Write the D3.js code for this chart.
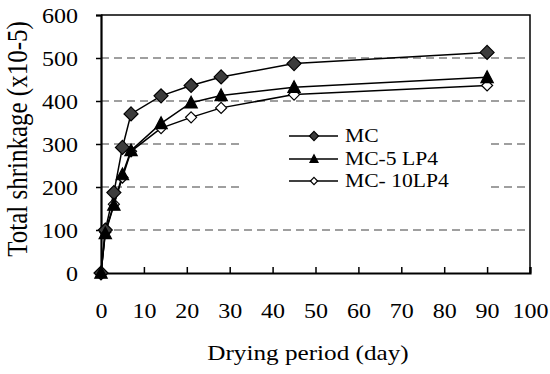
<!DOCTYPE html>
<html>
<head>
<meta charset="utf-8">
<script src="https://cdn.jsdelivr.net/npm/d3@7"></script>
<style>
    body { margin: 0; background: #fff; }
    svg text { font-family: "Liberation Serif", "Times New Roman", serif; fill: #000; }
</style>
</head>
<body>
<svg id="chart" width="550" height="374"></svg>
<script>
// drying days
const days = [0, 1, 3, 5, 7, 14, 21, 28, 45, 90];

// total shrinkage (x10-5)
const mc = [0, 100, 187, 292, 370, 412, 436, 456, 487, 513];
const mc5lp4 = [0, 92, 158, 229, 285, 348, 396, 413, 432, 455];
const mc10lp4 = [0, 95, 160, 222, 283, 337, 362, 384, 415, 436];

const seriesNames = ["MC", "MC-5 LP4", "MC- 10LP4"];
const xTicks = [0, 10, 20, 30, 40, 50, 60, 70, 80, 90, 100];
const yTicks = [0, 100, 200, 300, 400, 500, 600];

const margin = { top: 15, right: 20, bottom: 101, left: 101 };
const width = 550 - margin.left - margin.right;
const height = 374 - margin.top - margin.bottom;
const stretch = 1.2; // the picture's text is a bit wide

const svg = d3.select("#chart");

const xScale = d3.scaleLinear().domain([0, 100]).range([margin.left, margin.left + width]);
const yScale = d3.scaleLinear().domain([0, 600]).range([margin.top + height, margin.top]);

// dashed gridlines
svg.append("g")
    .selectAll("line")
    .data(yTicks.filter((d) => d > 0 && d < 600))
    .enter()
    .append("line")
    .attr("x1", xScale(0))
    .attr("x2", xScale(100))
    .attr("y1", (d) => yScale(d))
    .attr("y2", (d) => yScale(d))
    .attr("stroke", "#808080")
    .attr("stroke-width", 1.5)
    .attr("stroke-dasharray", "8,5");

// frame top + right
svg.append("path")
    .attr("d", `M${xScale(0)},${yScale(600)}H${xScale(100)}V${yScale(0)}`)
    .attr("fill", "none")
    .attr("stroke", "#000")
    .attr("stroke-width", 1.5);

// y axis
const yAxis = svg.append("g")
    .attr("transform", `translate(${xScale(0)},0)`)
    .call(d3.axisLeft(yScale).tickValues(yTicks).tickSize(5).tickPadding(0).tickFormat(""));
yAxis.select(".domain").attr("stroke-width", 2.2);
yAxis.selectAll(".tick line").attr("stroke-width", 1.5);

yAxis.selectAll(".tick")
    .append("text")
    .attr("transform", `translate(-23,7) scale(${stretch},1)`)
    .attr("text-anchor", "end")
    .style("font-size", "20px")
    .text((d) => d);

// x axis, ticks point inward
const xAxis = svg.append("g")
    .attr("transform", `translate(0,${yScale(0)})`)
    .call(d3.axisBottom(xScale).tickValues(xTicks).tickSize(-6).tickFormat(""));
xAxis.select(".domain").attr("stroke-width", 2.2);
xAxis.selectAll(".tick line").attr("stroke-width", 1.5);

xAxis.selectAll(".tick")
    .append("text")
    .attr("transform", `translate(0,45) scale(${stretch},1)`)
    .attr("text-anchor", "middle")
    .style("font-size", "20px")
    .text((d) => d);

// titles
svg.append("text")
    .attr("transform", `translate(308,360) scale(${stretch},1)`)
    .attr("text-anchor", "middle")
    .style("font-size", "21px")
    .text("Drying period (day)");

svg.append("text")
    .attr("transform", `translate(27,139) scale(${stretch},1) rotate(-90)`)
    .attr("text-anchor", "middle")
    .style("font-size", "25px")
    .text("Total shrinkage (x10-5)");

// markers
const diamond = (r) => `M0,${-r}L${r},0L0,${r}L${-r},0Z`;
const triangle = (r) => `M0,${-r}L${r * 0.95},${r * 0.8}L${-r * 0.95},${r * 0.8}Z`;

const series = [
    { name: seriesNames[0], values: mc, shape: diamond, size: 7, fill: "#3c3c3c" },
    { name: seriesNames[1], values: mc5lp4, shape: triangle, size: 6.5, fill: "#000" },
    { name: seriesNames[2], values: mc10lp4, shape: diamond, size: 5.5, fill: "#fff" },
];
const drawOrder = [2, 0, 1];

const line = d3.line()
    .x((d) => xScale(d[0]))
    .y((d) => yScale(d[1]));

// legend box, hides gridlines behind it
const legend = svg.append("g");
legend.append("rect")
    .attr("x", 243)
    .attr("y", 122)
    .attr("width", 247)
    .attr("height", 72)
    .attr("fill", "#fff");

drawOrder.forEach((k) => {
    const s = series[k];
    const pts = days.map((d, i) => [d, s.values[i]]);
    svg.append("path")
        .attr("d", line(pts))
        .attr("fill", "none")
        .attr("stroke", "#000")
        .attr("stroke-width", 1.5);
});

drawOrder.forEach((k) => {
    const s = series[k];
    const pts = days.map((d, i) => [d, s.values[i]]);
    svg.append("g")
        .selectAll("path")
        .data(pts)
        .enter()
        .append("path")
        .attr("transform", (d) => `translate(${xScale(d[0])},${yScale(d[1])})`)
        .attr("d", s.shape(s.size))
        .attr("fill", s.fill)
        .attr("stroke", "#000")
        .attr("stroke-width", 1.2);
});

const rowY = [136, 159, 181];
series.forEach((s, i) => {
    const row = legend.append("g").attr("transform", `translate(0,${rowY[i]})`);
    row.append("line")
        .attr("x1", 289)
        .attr("x2", 338)
        .attr("stroke", "#000")
        .attr("stroke-width", 1.5);
    row.append("path")
        .attr("transform", "translate(314,0)")
        .attr("d", s.shape(s.size * 0.65))
        .attr("fill", s.fill)
        .attr("stroke", "#000")
        .attr("stroke-width", 1.2);
    row.append("text")
        .attr("transform", `translate(345,6) scale(${stretch},1)`)
        .style("font-size", "18px")
        .text(s.name);
});
</script>
</body>
</html>
